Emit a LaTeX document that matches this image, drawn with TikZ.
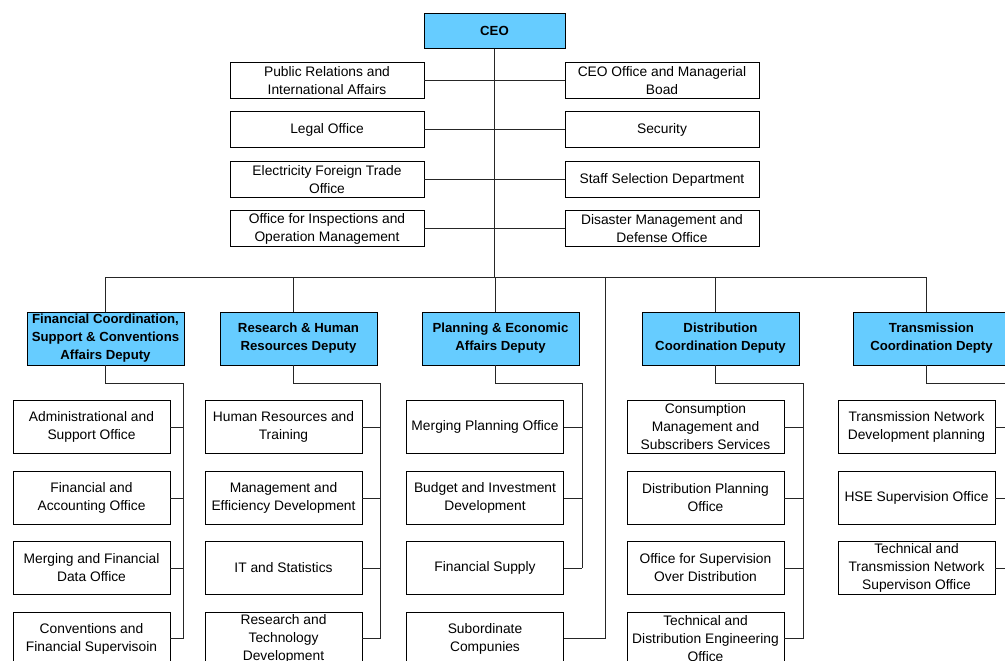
\documentclass[tikz,border=0pt]{standalone}
\usepackage{fontspec}
\setmainfont{Liberation Sans}
\definecolor{dblue}{HTML}{66CCFF}
\tikzset{
 box/.style={draw=black, line width=0.9pt, fill=white, align=center, inner xsep=2pt, inner ysep=0pt, font=\fontsize{13.8}{18}\selectfont},
 staff/.style={box, minimum width=194pt, minimum height=36pt},
 sub/.style={box, minimum width=157pt, minimum height=53pt},
 dep/.style={box, fill=dblue, minimum width=157pt, minimum height=53pt, font=\bfseries\fontsize{13.2}{18}\selectfont},
 ceobox/.style={dep, minimum width=141pt, minimum height=35pt},
 conn/.style={draw=black!85, line width=0.8pt}
}
\begin{document}
\begin{tikzpicture}[x=1pt,y=-1pt]
\useasboundingbox (0,0) rectangle (1005,661);
% CEO and staff
\node[ceobox] (ceo) at (494.5,31) {CEO};
\node[staff] (l1) at (327,80.5) {Public Relations and\\International Affairs};
\node[staff] (l2) at (327,129.5) {Legal Office};
\node[staff] (l3) at (327,179.5) {Electricity Foreign Trade\\Office};
\node[staff] (l4) at (327,228.5) {Office for Inspections and\\Operation Management};
\node[staff] (r1) at (662,80.5) {CEO Office and Managerial\\Boad};
\node[staff] (r2) at (662,129.5) {Security};
\node[staff] (r3) at (662,179.5) {Staff Selection Department};
\node[staff] (r4) at (662,228.5) {Disaster Management and\\Defense Office};
% deputies
\node[dep] (d1) at (105.5,338.5) {Financial Coordination,\\Support \& Conventions\\Affairs Deputy};
\node[dep] (d2) at (298.5,338.5) {Research \& Human\\Resources Deputy};
\node[dep] (d3) at (500.5,338.5) {Planning \& Economic\\Affairs Deputy};
\node[dep] (d4) at (720.5,338.5) {Distribution\\Coordination Deputy};
\node[dep] (d5) at (931.5,338.5) {Transmission\\Coordination Depty};
% children
\node[sub] (c11) at (91.5,427) {Administrational and\\Support Office};
\node[sub] (c12) at (91.5,498) {Financial and\\Accounting Office};
\node[sub] (c13) at (91.5,568) {Merging and Financial\\Data Office};
\node[sub] (c14) at (91.5,638.5) {Conventions and\\Financial Supervisoin};
\node[sub] (c21) at (283.5,427) {Human Resources and\\Training};
\node[sub] (c22) at (283.5,498) {Management and\\Efficiency Development};
\node[sub] (c23) at (283.5,568) {IT and Statistics};
\node[sub] (c24) at (283.5,638.5) {Research and\\Technology\\Development};
\node[sub] (c31) at (485,427) {Merging Planning Office};
\node[sub] (c32) at (485,498) {Budget and Investment\\Development};
\node[sub] (c33) at (485,568) {Financial Supply};
\node[sub] (c34) at (485,638.5) {Subordinate\\Compunies};
\node[sub] (c41) at (705.5,427) {Consumption\\Management and\\Subscribers Services};
\node[sub] (c42) at (705.5,498) {Distribution Planning\\Office};
\node[sub] (c43) at (705.5,568) {Office for Supervision\\Over Distribution};
\node[sub] (c44) at (705.5,638.5) {Technical and\\Distribution Engineering\\Office};
\node[sub] (c51) at (916.5,427) {Transmission Network\\Development planning};
\node[sub] (c52) at (916.5,498) {HSE Supervision Office};
\node[sub] (c53) at (916.5,568) {Technical and\\Transmission Network\\Supervison Office};
% bus coordinates
\coordinate (t1) at (105,277);
\coordinate (t2) at (293,277);
\coordinate (t3) at (495,277);
\coordinate (t4) at (715,277);
\coordinate (t5) at (926,277);
\coordinate (t6) at (605,277);
\coordinate (s1) at (183,383);
\coordinate (s2) at (380,383);
\coordinate (s3) at (582,383);
\coordinate (s4) at (803,383);
\coordinate (s5) at (1012,383);
% connectors
\draw[conn] (ceo.south) -- (ceo.south |- t1);
\foreach \i in {1,...,4}{
  \draw[conn] (l\i.east) -- (r\i.west);
}
\draw[conn] (t1) -- (t5);
\foreach \i in {1,...,5}{
  \draw[conn] (t\i) -- (t\i |- d\i.north);
  \draw[conn] (t\i |- d\i.south) |- (s\i);
}
\draw[conn] (s1) -- (s1 |- c14.east);
\draw[conn] (s2) -- (s2 |- c24.east);
\draw[conn] (s3) -- (s3 |- c33.east);
\draw[conn] (s4) -- (s4 |- c44.east);
\draw[conn] (s5) -- (s5 |- c53.east);
\foreach \j in {1,...,4}{
  \draw[conn] (c1\j.east) -- (c1\j.east -| s1);
  \draw[conn] (c2\j.east) -- (c2\j.east -| s2);
  \draw[conn] (c4\j.east) -- (c4\j.east -| s4);
}
\foreach \j in {1,...,3}{
  \draw[conn] (c3\j.east) -- (c3\j.east -| s3);
  \draw[conn] (c5\j.east) -- (c5\j.east -| s5);
}
\draw[conn] (t6) |- (c34.east);
\end{tikzpicture}
\end{document}
